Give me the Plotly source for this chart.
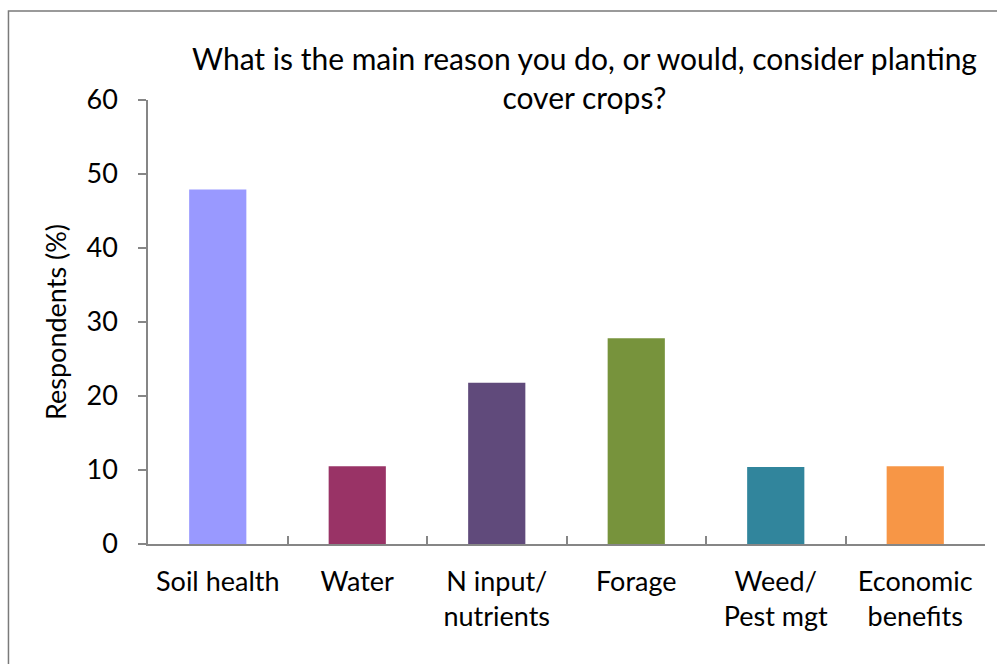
import plotly.graph_objects as go

categories = ["Soil health", "Water", "N input/<br>nutrients", "Forage", "Weed/<br>Pest mgt", "Economic<br>benefits"]
values = [47.9, 10.5, 21.8, 27.8, 10.4, 10.5]
colors = ["#9999FF", "#993366", "#604A7B", "#77933C", "#31859C", "#F79646"]
y_ticks = [0, 10, 20, 30, 40, 50, 60]

title_text = "What is the main reason you do, or would, consider planting<br>cover crops?"
y_title = "Respondents (%)"

FONT = "Lato, Open Sans, sans-serif"
AXIS_GRAY = "#868686"

fig = go.Figure(
    go.Bar(
        x=categories,
        y=values,
        marker=dict(color=colors, line=dict(width=0)),
        width=0.41,
    )
)

fig.update_layout(
    width=997,
    height=664,
    margin=dict(l=148, r=12, t=100, b=120),
    paper_bgcolor="white",
    plot_bgcolor="white",
    showlegend=False,
    font=dict(family=FONT, size=27, color="black"),
    annotations=[
        dict(
            text=title_text,
            xref="paper", yref="paper",
            x=0.522, y=1.05,
            xanchor="center", yanchor="middle",
            showarrow=False,
            font=dict(family=FONT, size=30, color="black"),
        )
    ],
    shapes=[
        dict(
            type="rect", xref="paper", yref="paper",
            x0=-0.1667, y0=-0.4, x1=1.2, y1=1.2005,
            line=dict(color="#7a7a7a", width=1.5),
            layer="below",
        )
    ],
)

fig.update_xaxes(
    showline=True, linecolor=AXIS_GRAY, linewidth=1.5,
    ticks="inside", tickson="boundaries", ticklen=8, tickcolor=AXIS_GRAY, tickwidth=1.5,
    showgrid=False, zeroline=False,
    tickfont=dict(family=FONT, size=27, color="black"),
    ticklabelstandoff=13,
)

fig.update_yaxes(
    range=[0, 60],
    tickvals=y_ticks,
    showline=True, linecolor=AXIS_GRAY, linewidth=1.5,
    ticks="outside", ticklen=8, tickcolor=AXIS_GRAY, tickwidth=1.5,
    showgrid=False, zeroline=False,
    tickfont=dict(family=FONT, size=27, color="black"),
    ticklabelstandoff=15,
    title=dict(text=y_title, font=dict(family=FONT, size=27, color="black"), standoff=12),
)

fig.write_html("out.html")
